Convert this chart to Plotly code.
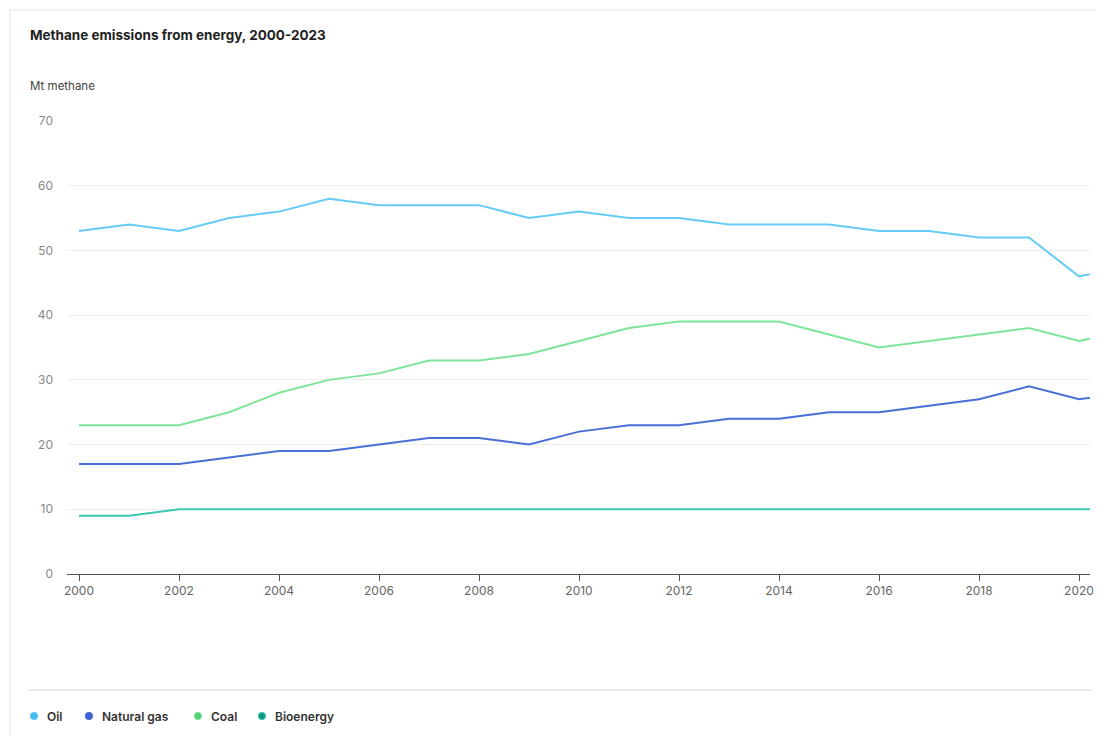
import plotly.graph_objects as go

years = list(range(2000, 2024))
oil = [53, 54, 53, 55, 56, 58, 57, 57, 57, 55, 56, 55, 55, 54, 54, 54, 53, 53, 52, 52, 46, 47.5, 48, 49]
natural_gas = [17, 17, 17, 18, 19, 19, 20, 21, 21, 20, 22, 23, 23, 24, 24, 25, 25, 26, 27, 29, 27, 28, 29, 29]
coal = [23, 23, 23, 25, 28, 30, 31, 33, 33, 34, 36, 38, 39, 39, 39, 37, 35, 36, 37, 38, 36, 37.7, 39, 40]
bioenergy = [9, 9, 10, 10, 10, 10, 10, 10, 10, 10, 10, 10, 10, 10, 10, 10, 10, 10, 10, 10, 10, 10, 10, 10]

series_names = ["Oil", "Natural gas", "Coal", "Bioenergy"]
series_values = [oil, natural_gas, coal, bioenergy]
line_colors = ["#66CBF6", "#4A6ED5", "#7DE49A", "#3CC7B3"]
marker_colors = ["#43B9EC", "#3A62CC", "#52CC72", "#16927F"]

# page has an 8px body margin; figure fills the rest of the 1104x736 window
OFF = 8
W, H = 1104 - OFF, 736 - OFF
L = 67 - OFF
T = 121 - OFF
B = H - (574 - OFF)
R = W - (1090 - OFF)
pw, ph = W - L - R, H - T - B


def px2x(px):
    return (px - OFF - L) / pw


def py2y(py):
    return (H - B - (py - OFF)) / ph


fig = go.Figure()
for name, vals, lc in zip(series_names, series_values, line_colors):
    fig.add_trace(go.Scatter(x=years, y=vals, mode="lines", name=name,
                             line=dict(color=lc, width=2), showlegend=False))

# legend (drawn as markers + text, placed like the original)
legend_marker_x = [34, 89, 198, 262]
legend_y = 716
shapes = [
    dict(type="line", xref="paper", yref="paper", x0=px2x(10), x1=px2x(1110),
         y0=py2y(10), y1=py2y(10), line=dict(color="#E4E4E4", width=1)),
    dict(type="line", xref="paper", yref="paper", x0=px2x(10), x1=px2x(10),
         y0=py2y(10), y1=py2y(740), line=dict(color="#E4E4E4", width=1)),
    dict(type="line", xref="paper", yref="paper", x0=px2x(28), x1=px2x(1092),
         y0=py2y(690), y1=py2y(690), line=dict(color="#EAEAEA", width=2)),
]
annotations = [
    dict(text="Methane emissions from energy, 2000-2023", xref="paper", yref="paper",
         x=px2x(28), y=py2y(35), xanchor="left", yanchor="middle", showarrow=False,
         font=dict(size=13.5, color="#222", weight=700)),
    dict(text="Mt methane", xref="paper", yref="paper",
         x=px2x(28), y=py2y(86), xanchor="left", yanchor="middle", showarrow=False,
         font=dict(size=11.5, color="#444")),
]
for name, mx, lc, mc in zip(series_names, legend_marker_x, line_colors, marker_colors):
    shapes.append(dict(type="circle", xref="paper", yref="paper",
                       xsizemode="pixel", ysizemode="pixel",
                       xanchor=px2x(mx), yanchor=py2y(legend_y),
                       x0=-3.5, x1=3.5, y0=-3.5, y1=3.5,
                       fillcolor=mc, line=dict(color=lc, width=1.2)))
    annotations.append(dict(text=name, xref="paper", yref="paper",
                            x=px2x(mx + 11), y=py2y(legend_y), xanchor="left", yanchor="middle",
                            showarrow=False, font=dict(size=12, color="#333", weight=600)))

fig.update_layout(
    width=W, height=H,
    margin=dict(l=L, r=R, t=T, b=B, autoexpand=False),
    paper_bgcolor="white", plot_bgcolor="white",
    font=dict(family="Inter, Open Sans, sans-serif", color="#333"),
    showlegend=False,
    xaxis=dict(range=[1999.76, 2020.22], tickmode="array", tickvals=list(range(2000, 2021, 2)),
               showgrid=False, showline=True, linecolor="#555", linewidth=1,
               ticks="outside", ticklen=6, tickcolor="#555",
               tickfont=dict(size=12, color="#666"), zeroline=False, fixedrange=True),
    yaxis=dict(range=[0, 70], dtick=10, showgrid=True, gridcolor="#EDEDED", gridwidth=1,
               zeroline=False, showline=False, ticks="", ticklabelstandoff=13,
               tickfont=dict(size=12, color="#888"), fixedrange=True),
    shapes=shapes,
    annotations=annotations,
)

fig.write_html("out.html")
